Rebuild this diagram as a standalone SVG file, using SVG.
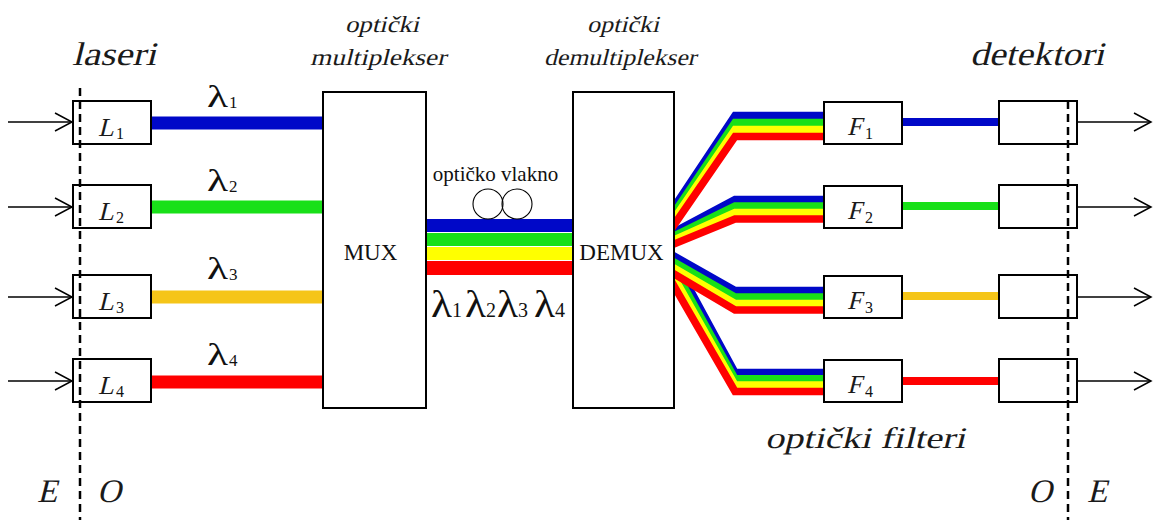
<svg xmlns="http://www.w3.org/2000/svg" width="1153" height="520" viewBox="0 0 1153 520">
<defs>
<marker id="ah" markerUnits="userSpaceOnUse" markerWidth="20" markerHeight="20" refX="18" refY="10" orient="auto"><path d="M1,1 L18,10 L1,19" fill="none" stroke="#000" stroke-width="1.5"/></marker>
</defs>
<style>
.box{fill:#fff;stroke:#000;stroke-width:2}
.dash{stroke:#000;stroke-width:2.5;stroke-dasharray:8 5;fill:none}
.arr{stroke:#000;stroke-width:1.5;fill:none;marker-end:url(#ah)}
.it{font-family:"Liberation Serif","Times New Roman",serif;font-style:normal;fill:#1a1a1a}
.rm{font-family:"Liberation Serif","Times New Roman",serif;fill:#111}
.band{fill:none;stroke-width:7.5;stroke-linejoin:miter}
.in{stroke-width:13;fill:none}
.out{stroke-width:8;fill:none}
.B{stroke:#0008c8}.G{stroke:#18e018}.Y{stroke:#ffff00}.R{stroke:#ff0000}.O{stroke:#f5c518}
.coil{fill:none;stroke:#000;stroke-width:1.1}
</style>
<rect width="1153" height="520" fill="#fff"/>

<g id="connectors">
  <line class="arr" x1="8" y1="122" x2="72" y2="122"/>
  <line class="arr" x1="8" y1="207" x2="72" y2="207"/>
  <line class="arr" x1="8" y1="297" x2="72" y2="297"/>
  <line class="arr" x1="8" y1="381" x2="72" y2="381"/>
  <line class="in B" x1="151" y1="123" x2="323" y2="123"/>
  <line class="in G" x1="151" y1="207" x2="323" y2="207"/>
  <line class="in O" x1="151" y1="297" x2="323" y2="297"/>
  <line class="in R" x1="151" y1="382" x2="323" y2="382"/>
  <g id="fiber">
    <rect x="426" y="219" width="147" height="13" fill="#0008c8"/>
    <rect x="426" y="233" width="147" height="13" fill="#18e018"/>
    <rect x="426" y="247" width="147" height="13" fill="#ffff00"/>
    <rect x="426" y="261" width="147" height="14" fill="#ff0000"/>
  </g>
  <g id="fan">
    <polyline class="band B" points="664,241.6 735,372.5 824,372.5"/>
    <polyline class="band G" points="664,250.6 735,378.8 824,378.8"/>
    <polyline class="band Y" points="664,259.7 735,385.1 824,385.1"/>
    <polyline class="band R" points="664,268.7 735,391.4 824,391.4"/>
    <polyline class="band B" points="664,250.3 735,290.5 824,290.5"/>
    <polyline class="band G" points="664,256.3 735,297 824,297"/>
    <polyline class="band Y" points="664,262.2 735,303.5 824,303.5"/>
    <polyline class="band R" points="664,268.1 735,310 824,310"/>
    <polyline class="band B" points="664,237.3 735,199.5 824,199.5"/>
    <polyline class="band G" points="664,240.9 735,206 824,206"/>
    <polyline class="band Y" points="664,244.5 735,212.5 824,212.5"/>
    <polyline class="band R" points="664,248.1 735,219 824,219"/>
    <polyline class="band B" points="664,222 735,115.5 824,115.5"/>
    <polyline class="band G" points="664,227.8 735,122.5 824,122.5"/>
    <polyline class="band Y" points="664,233.7 735,129.5 824,129.5"/>
    <polyline class="band R" points="664,239.5 735,136.5 824,136.5"/>
  </g>
  <line class="out B" x1="902" y1="122" x2="999" y2="122"/>
  <line class="out G" x1="902" y1="206" x2="999" y2="206"/>
  <line class="out O" x1="902" y1="296" x2="999" y2="296"/>
  <line class="out R" x1="902" y1="381" x2="999" y2="381"/>
  <line class="arr" x1="1077" y1="122" x2="1151" y2="122"/>
  <line class="arr" x1="1077" y1="207" x2="1151" y2="207"/>
  <line class="arr" x1="1077" y1="297" x2="1151" y2="297"/>
  <line class="arr" x1="1077" y1="381" x2="1151" y2="381"/>
</g>

<g id="L1"><rect class="box" x="73" y="101" width="78" height="43"/><text class="it" transform="translate(98,136) skewX(-14)" font-size="26">L</text><text class="rm" x="116" y="139" font-size="16">1</text></g>
<g id="L2"><rect class="box" x="73" y="185" width="78" height="43"/><text class="it" transform="translate(98,220) skewX(-14)" font-size="26">L</text><text class="rm" x="116" y="223" font-size="16">2</text></g>
<g id="L3"><rect class="box" x="73" y="275" width="78" height="43"/><text class="it" transform="translate(98,310) skewX(-14)" font-size="26">L</text><text class="rm" x="116" y="313" font-size="16">3</text></g>
<g id="L4"><rect class="box" x="73" y="359" width="78" height="43"/><text class="it" transform="translate(98,394) skewX(-14)" font-size="26">L</text><text class="rm" x="116" y="397" font-size="16">4</text></g>

<g id="MUX"><rect class="box" x="323" y="92" width="103" height="316"/><text class="rm" x="370.5" y="260" font-size="23" text-anchor="middle">MUX</text></g>
<g id="DEMUX"><rect class="box" x="573" y="92" width="101" height="316"/><text class="rm" x="621.5" y="260" font-size="23" text-anchor="middle">DEMUX</text></g>

<g id="F1"><rect class="box" x="824" y="102" width="78" height="42"/><text class="it" transform="translate(847,135) skewX(-14)" font-size="26">F</text><text class="rm" x="865" y="139" font-size="16">1</text></g>
<g id="F2"><rect class="box" x="824" y="186" width="78" height="42"/><text class="it" transform="translate(847,219) skewX(-14)" font-size="26">F</text><text class="rm" x="865" y="223" font-size="16">2</text></g>
<g id="F3"><rect class="box" x="824" y="276" width="78" height="42"/><text class="it" transform="translate(847,309) skewX(-14)" font-size="26">F</text><text class="rm" x="865" y="313" font-size="16">3</text></g>
<g id="F4"><rect class="box" x="824" y="360" width="78" height="42"/><text class="it" transform="translate(847,393) skewX(-14)" font-size="26">F</text><text class="rm" x="865" y="397" font-size="16">4</text></g>

<g id="D1"><rect class="box" x="999" y="101" width="78" height="43"/></g>
<g id="D2"><rect class="box" x="999" y="185" width="78" height="43"/></g>
<g id="D3"><rect class="box" x="999" y="275" width="78" height="43"/></g>
<g id="D4"><rect class="box" x="999" y="359" width="78" height="43"/></g>

<g id="boundaries">
  <line class="dash" x1="80" y1="88" x2="80" y2="520"/>
  <line class="dash" x1="1068" y1="101" x2="1068" y2="520"/>
</g>

<g id="coil">
  <circle class="coil" cx="488" cy="204" r="15"/>
  <circle class="coil" cx="517" cy="204" r="15"/>
</g>

<g id="labels">
  <text class="it" transform="translate(72,65) skewX(-14)" font-size="33" textLength="84" lengthAdjust="spacingAndGlyphs">laseri</text>
  <text class="it" transform="translate(382,32) skewX(-14)" font-size="23" text-anchor="middle" textLength="74" lengthAdjust="spacingAndGlyphs">optički</text>
  <text class="it" transform="translate(378,65) skewX(-14)" font-size="23" text-anchor="middle" textLength="136" lengthAdjust="spacingAndGlyphs">multiplekser</text>
  <text class="it" transform="translate(623,32) skewX(-14)" font-size="23" text-anchor="middle" textLength="72" lengthAdjust="spacingAndGlyphs">optički</text>
  <text class="it" transform="translate(620,65) skewX(-14)" font-size="23" text-anchor="middle" textLength="152" lengthAdjust="spacingAndGlyphs">demultiplekser</text>
  <text class="it" transform="translate(970,65) skewX(-14)" font-size="33" textLength="134" lengthAdjust="spacingAndGlyphs">detektori</text>
  <text class="it" transform="translate(765,448) skewX(-14)" font-size="30" textLength="200" lengthAdjust="spacingAndGlyphs">optički filteri</text>
  <text class="rm" x="495.5" y="181" font-size="21" text-anchor="middle">optičko vlakno</text>
  <text class="it" transform="translate(37,502) skewX(-14)" font-size="33">E</text>
  <text class="it" transform="translate(97,502) skewX(-14)" font-size="33">O</text>
  <text class="it" transform="translate(1028,502) skewX(-14)" font-size="33">O</text>
  <text class="it" transform="translate(1087,502) skewX(-14)" font-size="33">E</text>
  <text class="rm" x="207" y="107" font-size="31" textLength="21" lengthAdjust="spacingAndGlyphs">λ</text><text class="rm" x="229" y="108" font-size="17">1</text>
  <text class="rm" x="207" y="191" font-size="31" textLength="21" lengthAdjust="spacingAndGlyphs">λ</text><text class="rm" x="229" y="192" font-size="17">2</text>
  <text class="rm" x="207" y="279" font-size="31" textLength="21" lengthAdjust="spacingAndGlyphs">λ</text><text class="rm" x="229" y="280" font-size="17">3</text>
  <text class="rm" x="207" y="365" font-size="31" textLength="21" lengthAdjust="spacingAndGlyphs">λ</text><text class="rm" x="229" y="366" font-size="17">4</text>
  <text class="rm" x="431" y="317" font-size="38" textLength="21" lengthAdjust="spacingAndGlyphs">λ</text><text class="rm" x="452" y="317" font-size="20">1</text>
  <text class="rm" x="465" y="317" font-size="38" textLength="21" lengthAdjust="spacingAndGlyphs">λ</text><text class="rm" x="486" y="317" font-size="20">2</text>
  <text class="rm" x="497" y="317" font-size="38" textLength="21" lengthAdjust="spacingAndGlyphs">λ</text><text class="rm" x="518" y="317" font-size="20">3</text>
  <text class="rm" x="534" y="317" font-size="38" textLength="21" lengthAdjust="spacingAndGlyphs">λ</text><text class="rm" x="555" y="317" font-size="20">4</text>
</g>
</svg>
